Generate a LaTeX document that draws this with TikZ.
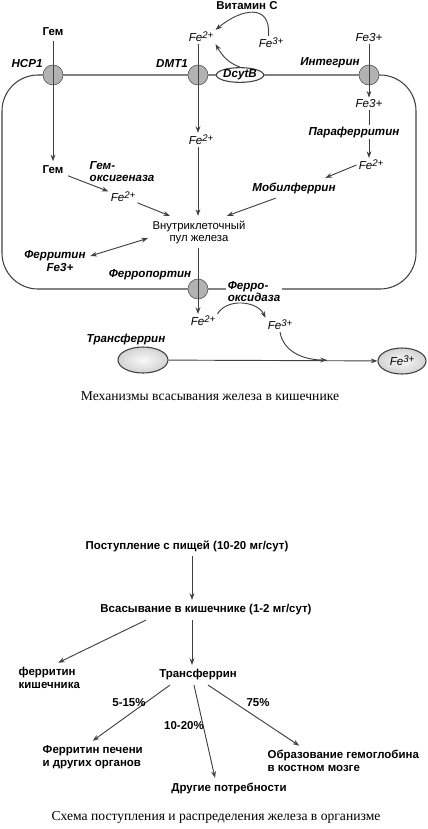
\documentclass[tikz,border=0pt]{standalone}
\usepackage{fontspec}
\setmainfont{Liberation Serif}
\setsansfont{Liberation Sans}
\usetikzlibrary{arrows.meta,shapes.geometric}

\newcommand{\feion}[1]{Fe\raisebox{0.45ex}{\fontsize{7.2}{7.2}\selectfont#1}}

\begin{document}
\begin{tikzpicture}[x=0.75pt, y=0.75pt,
    lbl/.style = {font=\sffamily\bfseries\itshape\fontsize{8.7}{9}\selectfont},
    fe/.style = {font=\sffamily\itshape\fontsize{8.7}{9}\selectfont, inner sep=1.5pt},
    txt/.style = {font=\sffamily\fontsize{8.5}{9}\selectfont},
    bld/.style = {font=\sffamily\bfseries\fontsize{8.6}{9.5}\selectfont},
    captxt/.style = {font=\fontsize{10.2}{12}\selectfont},
    chan/.style = {draw=black!70, fill=gray!60, circle, minimum size=15pt, inner sep=0pt},
    arr/.style = {draw=black!75, line width=0.7pt, -{Stealth[length=5pt, width=3.6pt]}},
    darr/.style = {draw=black!75, line width=0.7pt, {Stealth[length=5pt, width=3.6pt]}-{Stealth[length=5pt, width=3.6pt]}},
    memb/.style = {draw=black!75, line width=0.8pt}]

    \useasboundingbox (0,0) rectangle (428,-829);

    % cell
    \draw[memb, rounded corners=27pt] (2,-75) rectangle (416,-289);

    \node[chan] (hcp) at (53,-75) {};
    \node[chan] (dmt) at (198,-75) {};
    \node[chan] (itg) at (369,-75) {};
    \node[chan] (fp) at (198,-289) {};
    \node[memb, ellipse, fill=white, inner sep=0pt, lbl] (dcytb) at (240,-75) {DcytB};

    \node[lbl] (hcpl) at (27,-64) {HCP1};
    \node[lbl] (dmtl) at (172,-64) {DMT1};
    \node[lbl] (itgl) at (330,-63) {Интегрин};
    \node[lbl] (fpl) at (150,-275) {Ферропортин};
    \node[lbl, align=left, fill=white, inner sep=1pt] (fox) at (254,-292) {Ферро-\\оксидаза};

    %--------------------------------------------

    \node[bld] (gem1) at (53,-32) {Гем};
    \node[bld] (gem2) at (53,-170) {Гем};
    \node[lbl, align=left, anchor=west] (gemox) at (85,-172) {Гем-\\оксигеназа};
    \node[fe] (fe2e) at (123,-197) {\feion{2+}};
    \draw[arr] (gem1) -- (gem2);
    \draw[arr] (gem2) -- (fe2e);

    \node[bld] (vitc) at (247,-6) {Витамин С};
    \node[fe] (fe2a) at (201,-37) {\feion{2+}};
    \node[fe] (fe3a) at (271,-43) {\feion{3+}};
    \node[fe] (fe2b) at (201,-140) {\feion{2+}};
    \draw[arr] (fe3a.110) to[out=85, in=40, looseness=1.6] (fe2a.north east);
    \draw[arr] (dcytb.north) to[out=160, in=-60] (fe2a.south east);
    \draw[arr] (fe2a.south -| dmt) -- (fe2b.north -| dmt);

    \node[fe] (fe3b) at (369,-38) {Fe3+};
    \node[fe] (fe3c) at (369,-104) {Fe3+};
    \node[fe] (fe2d) at (371,-165) {\feion{2+}};
    \draw[arr] (fe3b) -- (fe3c);
    \draw[arr] (fe3c) -- (fe2d.north -| fe3c);
    \node[lbl, fill=white, inner sep=1pt] (paraf) at (354,-132) {Параферритин};
    \node[lbl] (mobf) at (294,-188) {Мобилферрин};
    \draw[arr] (fe2d.west) -- (mobf.18);

    \node[txt, align=center] (pool) at (199,-232) {Внутриклеточный\\пул железа};
    \draw[arr] (fe2b.south -| dmt) -- (pool.north -| dmt);
    \draw[arr] (fe2e) -- (pool.151);
    \draw[arr] (mobf.209) -- (pool.30);

    \node[lbl] (ferr) at (55,-256) {Ферритин};
    \node[lbl] (fe3d) at (60,-268) {Fe3+};
    \draw[darr] (ferr.east) -- (pool.187);

    %--------------------------------------------

    \node[fe] (fe2c) at (203,-321) {\feion{2+}};
    \node[fe] (fe3e) at (280,-325) {\feion{3+}};
    \draw[arr] (pool.south -| fp) -- (fe2c.north -| fp);
    \draw[arr] (fe2c.north east) to[out=60, in=115] (fe3e.north west);

    \node[lbl] (tfl) at (126,-339) {Трансферрин};
    \node[memb, ellipse, inner color=gray!5, outer color=gray!35, minimum width=37.5pt, minimum height=19.5pt] (tf) at (143,-360) {};
    \node[memb, ellipse, inner color=gray!5, outer color=gray!35, minimum width=36pt, minimum height=19.5pt, fe] (tffe) at (402,-361) {\feion{3+}};
    \coordinate (merge) at (327,-360);
    \draw[arr] (tf) -- (tffe);
    \draw[arr] (fe3e.south) to[out=-80, in=180] (merge);

    \node[captxt] (cap1) at (210,-396) {Механизмы всасывания железа в кишечнике};

    %--------------------------------------------

    \coordinate (axis) at (192,-600);
    \node[bld] (food) at (187,-546) {Поступление с пищей (10-20 мг/сут)};
    \node[bld] (abs) at (206,-610) {Всасывание в кишечнике (1-2 мг/сут)};
    \node[bld, align=left, anchor=west] (ferk) at (14,-678) {ферритин\\кишечника};
    \node[bld] (trf) at (198,-675) {Трансферрин};
    \draw[arr] (food.south -| axis) -- (abs.north -| axis);
    \draw[arr] (abs.south -| axis) -- (trf.north -| axis);
    \draw[arr] ([xshift=-45pt]abs.south) -- (ferk.60);

    \node[bld, align=left, anchor=west] (ferp) at (38,-757) {Ферритин печени\\и других органов};
    \node[bld, align=left, anchor=west] (hgb) at (263,-761) {Образование гемоглобина\\в костном мозге};
    \node[bld] (oth) at (229,-788) {Другие потребности};
    \draw[arr] ([xshift=-21pt]trf.south) -- (ferp.north);
    \draw[arr] ([xshift=-3pt]trf.south) -- ([xshift=-10.5pt]oth.north);
    \draw[arr] ([xshift=7.5pt]trf.south) -- ([xshift=-33pt]hgb.north);

    \node[bld] (p1) at (129,-703) {5-15\%};
    \node[bld] (p2) at (184,-726) {10-20\%};
    \node[bld] (p3) at (258,-703) {75\%};

    \node[captxt] (cap2) at (216,-817) {Схема поступления и распределения железа в организме};

\end{tikzpicture}
\end{document}
